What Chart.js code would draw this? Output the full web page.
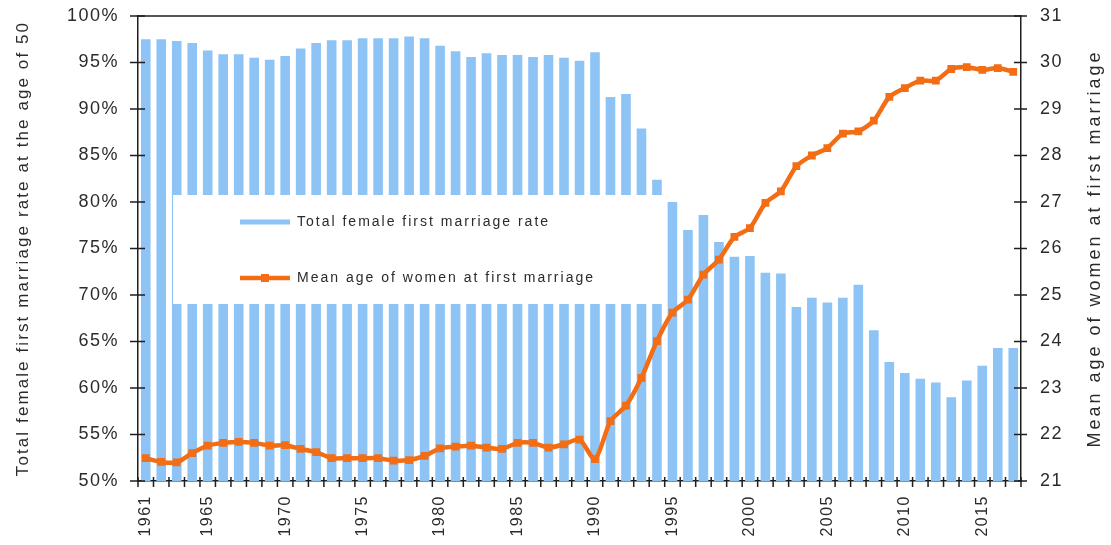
<!DOCTYPE html>
<html>
<head>
<meta charset="utf-8">
<script src="https://cdn.jsdelivr.net/npm/chart.js@4.4.1/dist/chart.umd.min.js"></script>
<style>
  html, body { margin: 0; padding: 0; background: #fff; }
  #wrap { width: 1111px; height: 545px; }
</style>
</head>
<body>
<div id="wrap"><canvas id="marriageChart"></canvas></div>
<script>
// categories (years)
const years = ['1961','1962','1963','1964','1965','1966','1967','1968','1969','1970',
               '1971','1972','1973','1974','1975','1976','1977','1978','1979','1980',
               '1981','1982','1983','1984','1985','1986','1987','1988','1989','1990',
               '1991','1992','1993','1994','1995','1996','1997','1998','1999','2000',
               '2001','2002','2003','2004','2005','2006','2007','2008','2009','2010',
               '2011','2012','2013','2014','2015','2016','2017'];

// total female first marriage rate at 50 (%)
const marriageRate = [97.5, 97.5, 97.3, 97.1, 96.3, 95.9, 95.9, 95.5, 95.3, 95.7,
                      96.5, 97.1, 97.4, 97.4, 97.6, 97.6, 97.6, 97.8, 97.6, 96.8,
                      96.2, 95.6, 96.0, 95.8, 95.8, 95.6, 95.8, 95.5, 95.2, 96.1,
                      91.3, 91.6, 87.9, 82.4, 80.0, 77.0, 78.6, 75.7, 74.1, 74.2,
                      72.4, 72.3, 68.7, 69.7, 69.2, 69.7, 71.1, 66.2, 62.8, 61.6,
                      61.0, 60.6, 59.0, 60.8, 62.4, 64.3, 64.3];

// mean age of women at first marriage
const meanAge = [21.49, 21.41, 21.40, 21.60, 21.76, 21.82, 21.84, 21.82, 21.76, 21.77,
                 21.69, 21.62, 21.49, 21.49, 21.49, 21.49, 21.44, 21.45, 21.54, 21.70,
                 21.74, 21.76, 21.72, 21.69, 21.82, 21.82, 21.72, 21.79, 21.89, 21.47,
                 22.29, 22.62, 23.22, 24.01, 24.62, 24.90, 25.44, 25.76, 26.25, 26.44,
                 26.98, 27.23, 27.77, 28.00, 28.16, 28.47, 28.52, 28.75, 29.26, 29.45,
                 29.61, 29.61, 29.86, 29.90, 29.84, 29.88, 29.80];

// labels shown on the x axis
const shownYears = ['1961','1965','1970','1975','1980','1985','1990','1995','2000','2005','2010','2015'];

const rateLabel = 'Total female first marriage rate';
const ageLabel = 'Mean age of women at first marriage';
const leftTitle = 'Total female first marriage rate at the age of 50';
const rightTitle = 'Mean age of women at first marriage';

const barColor = '#8dc3f5';
const lineColor = '#f26d14';
const axisColor = '#1e1e1e';
const textColor = '#2b2b2b';
const fontFamily = '"Liberation Sans", Arial, sans-serif';

// letter spacing for the library's own tick labels
const spacingPlugin = {
    id: 'spacing',
    beforeUpdate(chart) { chart.ctx.letterSpacing = '1.5px'; },
    beforeDraw(chart) { chart.ctx.letterSpacing = '1.5px'; }
};

// legend box inside the plot, drawn over the bars
const legendBoxPlugin = {
    id: 'legendBox',
    afterDatasetDraw(chart, args) {
        if (args.index !== 0) return;
        const ctx = chart.ctx;
        ctx.save();
        ctx.fillStyle = '#ffffff';
        ctx.fillRect(173, 195, 492, 109);

        ctx.lineCap = 'butt';
        ctx.strokeStyle = barColor;
        ctx.lineWidth = 5;
        ctx.beginPath(); ctx.moveTo(240, 222); ctx.lineTo(290, 222); ctx.stroke();

        ctx.strokeStyle = lineColor;
        ctx.lineWidth = 4.5;
        ctx.beginPath(); ctx.moveTo(240, 278); ctx.lineTo(290, 278); ctx.stroke();
        ctx.fillStyle = lineColor;
        ctx.fillRect(261, 274, 8, 8);

        ctx.letterSpacing = '2px';
        ctx.fillStyle = textColor;
        ctx.font = '14px ' + fontFamily;
        ctx.textBaseline = 'middle';
        ctx.textAlign = 'left';
        ctx.fillText(chart.data.datasets[0].label, 297, 222);
        ctx.fillText(chart.data.datasets[1].label, 297, 278);
        ctx.restore();
    }
};

// frame, cross tick marks and rotated axis titles
const framePlugin = {
    id: 'frame',
    afterDraw(chart) {
        const ctx = chart.ctx;
        const area = chart.chartArea;
        const x = chart.scales.x;
        const yL = chart.scales.y;
        const yR = chart.scales.y1;
        ctx.save();
        ctx.strokeStyle = axisColor;
        ctx.lineWidth = 1.5;

        ctx.beginPath();
        ctx.moveTo(area.left, area.top);
        ctx.lineTo(area.right, area.top);
        ctx.stroke();

        ctx.beginPath();
        yL.ticks.forEach((t, i) => {
            const py = yL.getPixelForTick(i);
            ctx.moveTo(area.left - 8, py); ctx.lineTo(area.left + 7, py);
        });
        yR.ticks.forEach((t, i) => {
            const py = yR.getPixelForTick(i);
            ctx.moveTo(area.right - 7, py); ctx.lineTo(area.right + 6, py);
        });
        const step = x.getPixelForValue(1) - x.getPixelForValue(0);
        for (let i = 0; i <= years.length; i++) {
            const px = x.getPixelForValue(0) + (i - 0.5) * step;
            ctx.moveTo(px, area.bottom - 4); ctx.lineTo(px, area.bottom + 6);
        }
        ctx.stroke();

        ctx.fillStyle = textColor;
        ctx.textAlign = 'center';
        ctx.textBaseline = 'middle';
        const midY = (area.top + area.bottom) / 2;

        ctx.save();
        ctx.letterSpacing = '2.1px';
        ctx.font = '17px ' + fontFamily;
        ctx.translate(23, midY);
        ctx.rotate(-Math.PI / 2);
        ctx.fillText(leftTitle, 0, 0);
        ctx.restore();

        ctx.save();
        ctx.letterSpacing = '3px';
        ctx.font = '18px ' + fontFamily;
        ctx.translate(1095, midY);
        ctx.rotate(-Math.PI / 2);
        ctx.fillText(rightTitle, 0, 0);
        ctx.restore();

        ctx.restore();
    }
};

// fixed axis sizes so the plot area matches the original frame
function fitVertical(width) {
    return function(scale) {
        scale.width = width;
        scale.paddingTop = 0;
        scale.paddingBottom = 0;
    };
}

document.addEventListener('DOMContentLoaded', function() {
    const canvas = document.getElementById('marriageChart');

    new Chart(canvas, {
        type: 'bar',
        data: {
            labels: years,
            datasets: [
                {
                    type: 'bar',
                    label: rateLabel,
                    data: marriageRate,
                    backgroundColor: barColor,
                    borderWidth: 0,
                    barPercentage: 0.62,
                    categoryPercentage: 1.0,
                    yAxisID: 'y',
                    order: 2
                },
                {
                    type: 'line',
                    label: ageLabel,
                    data: meanAge,
                    borderColor: lineColor,
                    backgroundColor: lineColor,
                    borderWidth: 4.5,
                    pointStyle: 'rect',
                    pointRadius: 5.5,
                    pointBorderWidth: 0,
                    tension: 0.25,
                    yAxisID: 'y1',
                    order: 1
                }
            ]
        },
        options: {
            responsive: true,
            maintainAspectRatio: false,
            animation: false,
            layout: {
                padding: { top: 16, left: 0, right: 0, bottom: 0 }
            },
            plugins: {
                legend: { display: false },
                tooltip: { enabled: false }
            },
            scales: {
                x: {
                    offset: true,
                    grid: { display: false, drawTicks: false },
                    border: { display: true, color: axisColor, width: 1.5 },
                    ticks: {
                        autoSkip: false,
                        minRotation: 90,
                        maxRotation: 90,
                        padding: 14,
                        color: textColor,
                        font: { family: fontFamily, size: 16 },
                        callback: function(value) {
                            const year = this.getLabelForValue(value);
                            return shownYears.includes(year) ? year : '';
                        }
                    },
                    afterFit: function(scale) {
                        scale.height = 64;
                        scale.paddingLeft = 0;
                        scale.paddingRight = 0;
                    }
                },
                y: {
                    position: 'left',
                    min: 50,
                    max: 100,
                    grid: { display: false, drawTicks: false },
                    border: { display: true, color: axisColor, width: 1.5 },
                    ticks: {
                        stepSize: 5,
                        padding: 19,
                        color: textColor,
                        font: { family: fontFamily, size: 18 },
                        callback: function(value) { return value + '%'; }
                    },
                    afterFit: fitVertical(138)
                },
                y1: {
                    position: 'right',
                    min: 21,
                    max: 31,
                    grid: { display: false, drawTicks: false },
                    border: { display: true, color: axisColor, width: 1.5 },
                    ticks: {
                        stepSize: 1,
                        padding: 19,
                        color: textColor,
                        font: { family: fontFamily, size: 18 }
                    },
                    afterFit: fitVertical(90)
                }
            }
        },
        plugins: [spacingPlugin, legendBoxPlugin, framePlugin]
    });
});
</script>
</body>
</html>
